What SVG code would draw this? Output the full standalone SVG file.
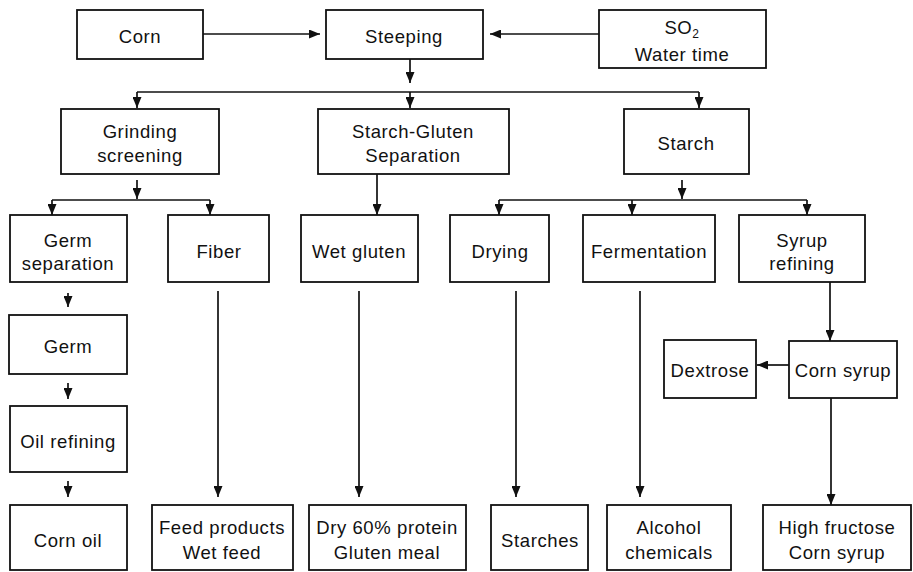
<svg xmlns="http://www.w3.org/2000/svg" width="913" height="572" viewBox="0 0 913 572">
<style>
rect{fill:#fff;stroke:#111;stroke-width:1.8}
text{font-family:"Liberation Sans",Arial,sans-serif;font-size:18.5px;fill:#111;text-anchor:middle;letter-spacing:0.6px}
.c path,.c line,.c polyline{stroke:#111;stroke-width:1.7;fill:none}
</style>
<defs>
<marker id="ah" viewBox="0 0 11 9" refX="11" refY="4.5" markerWidth="11" markerHeight="9" markerUnits="userSpaceOnUse" orient="auto">
<path d="M0,0 L11,4.5 L0,9 z" fill="#111"/>
</marker>
</defs>
<g class="c" id="connectors">
<line x1="203" y1="34" x2="320" y2="34" marker-end="url(#ah)"/>
<line x1="599" y1="34" x2="490" y2="34" marker-end="url(#ah)"/>
<line x1="410" y1="59" x2="410" y2="83" marker-end="url(#ah)"/>
<polyline points="137,92 699,92"/>
<line x1="137" y1="92" x2="137" y2="108" marker-end="url(#ah)"/>
<line x1="410" y1="92" x2="410" y2="108" marker-end="url(#ah)"/>
<line x1="699" y1="92" x2="699" y2="108" marker-end="url(#ah)"/>
<line x1="137" y1="180" x2="137" y2="199" marker-end="url(#ah)"/>
<polyline points="52,200 210,200"/>
<line x1="52" y1="200" x2="52" y2="215" marker-end="url(#ah)"/>
<line x1="210" y1="200" x2="210" y2="215" marker-end="url(#ah)"/>
<line x1="377" y1="174" x2="377" y2="215" marker-end="url(#ah)"/>
<line x1="682" y1="180" x2="682" y2="199" marker-end="url(#ah)"/>
<polyline points="499,200 807,200"/>
<line x1="499" y1="200" x2="499" y2="215" marker-end="url(#ah)"/>
<line x1="632" y1="200" x2="632" y2="215" marker-end="url(#ah)"/>
<line x1="807" y1="200" x2="807" y2="215" marker-end="url(#ah)"/>
<line x1="68" y1="293" x2="68" y2="307" marker-end="url(#ah)"/>
<line x1="68" y1="383" x2="68" y2="399" marker-end="url(#ah)"/>
<line x1="68" y1="481" x2="68" y2="497" marker-end="url(#ah)"/>
<line x1="218" y1="291" x2="218" y2="497" marker-end="url(#ah)"/>
<line x1="359" y1="291" x2="359" y2="497" marker-end="url(#ah)"/>
<line x1="516" y1="291" x2="516" y2="497" marker-end="url(#ah)"/>
<line x1="640" y1="291" x2="640" y2="497" marker-end="url(#ah)"/>
<line x1="830" y1="282" x2="830" y2="341" marker-end="url(#ah)"/>
<line x1="789" y1="365" x2="757" y2="365" marker-end="url(#ah)"/>
<line x1="831" y1="398" x2="831" y2="505" marker-end="url(#ah)"/>
</g>
<g id="corn"><rect x="77" y="10" width="126" height="49"/><text x="140" y="43">Corn</text></g>
<g id="steeping"><rect x="326" y="10" width="157" height="49"/><text x="404" y="43">Steeping</text></g>
<g id="so2"><rect x="599" y="10" width="167" height="58"/><text x="682" y="34">SO<tspan font-size="12" dy="4">2</tspan></text><text x="682" y="61">Water time</text></g>
<g id="grinding"><rect x="61" y="109" width="158" height="65"/><text x="140" y="138">Grinding</text><text x="140" y="162">screening</text></g>
<g id="sgsep"><rect x="318" y="109" width="191" height="65"/><text x="413" y="138">Starch-Gluten</text><text x="413" y="162">Separation</text></g>
<g id="starch"><rect x="624" y="109" width="125" height="65"/><text x="686" y="150">Starch</text></g>
<g id="germsep"><rect x="10" y="215" width="117" height="67"/><text x="68" y="247">Germ</text><text x="68" y="270">separation</text></g>
<g id="fiber"><rect x="168" y="215" width="101" height="67"/><text x="219" y="258">Fiber</text></g>
<g id="wetgluten"><rect x="301" y="215" width="117" height="67"/><text x="359" y="258">Wet gluten</text></g>
<g id="drying"><rect x="450" y="215" width="99" height="67"/><text x="500" y="258">Drying</text></g>
<g id="fermentation"><rect x="583" y="215" width="132" height="67"/><text x="649" y="258">Fermentation</text></g>
<g id="syrupref"><rect x="739" y="215" width="126" height="67"/><text x="802" y="247">Syrup</text><text x="802" y="270">refining</text></g>
<g id="germ"><rect x="9" y="315" width="118" height="59"/><text x="68" y="353">Germ</text></g>
<g id="dextrose"><rect x="664" y="340" width="92" height="58"/><text x="710" y="377">Dextrose</text></g>
<g id="cornsyrup"><rect x="789" y="341" width="108" height="57"/><text x="843" y="377">Corn syrup</text></g>
<g id="oilref"><rect x="10" y="406" width="117" height="66"/><text x="68" y="448">Oil refining</text></g>
<g id="cornoil"><rect x="10" y="505" width="117" height="65"/><text x="68" y="547">Corn oil</text></g>
<g id="feed"><rect x="152" y="505" width="141" height="65"/><text x="222" y="534">Feed products</text><text x="222" y="559">Wet feed</text></g>
<g id="dry60"><rect x="309" y="505" width="157" height="65"/><text x="387" y="534">Dry 60% protein</text><text x="387" y="559">Gluten meal</text></g>
<g id="starches"><rect x="491" y="505" width="97" height="65"/><text x="540" y="547">Starches</text></g>
<g id="alcohol"><rect x="607" y="505" width="124" height="65"/><text x="669" y="534">Alcohol</text><text x="669" y="559">chemicals</text></g>
<g id="hfcs"><rect x="763" y="505" width="148" height="65"/><text x="837" y="534">High fructose</text><text x="837" y="559">Corn syrup</text></g>
</svg>
